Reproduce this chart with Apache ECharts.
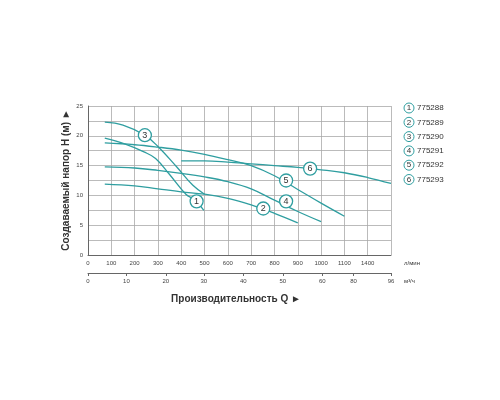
<!DOCTYPE html><html><head><meta charset="utf-8"><script src="https://cdn.jsdelivr.net/npm/echarts@6/dist/echarts.min.js"></script>
<style>html,body{margin:0;background:#fff}#c{width:500px;height:400px}</style></head><body><div id="c"></div><script>
var names=['775288','775289','775290','775291','775292','775293'];
var c1=[[72,19.6],[160,18.6],[240,17.3],[290,16.2],[350,13.5],[420,10.2],[460,9.2],[497,7.5]];
var c2=[[72,11.9],[200,11.6],[300,11.1],[400,10.6],[500,10.2],[600,9.5],[700,8.4],[800,7],[900,5.4]];
var c3=[[72,22.3],[150,21.8],[244,20.1],[300,18.2],[380,14.8],[450,11.7],[500,10.2]];
var c4=[[72,14.8],[200,14.6],[300,14.2],[400,13.7],[500,13.1],[600,12.3],[700,11.1],[800,9.2],[900,7.3],[1000,5.6]];
var c5=[[72,18.8],[200,18.5],[300,18.1],[400,17.6],[500,16.9],[600,16],[700,15],[800,13.3],[900,11],[1000,8.7],[1100,6.5]];
var c6=[[400,15.8],[500,15.8],[600,15.6],[700,15.3],[800,15],[900,14.7],[1000,14.3],[1100,13.8],[1200,13],[1300,12]];
var curves=[c1,c2,c3,c4,c5,c6];
var marks=[[466,9.0],[752,7.8],[244,20.1],[850,9.0],[850,12.5],[953,14.5]];
var lpmTicks=[0,100,200,300,400,500,600,700,800,900,1000,1100,1200];
var lpmLabels=['0','100','200','300','400','500','600','700','800','900','1000','1100','1400'];
var m3Pos=[0,165,334,497,666,836,1005,1139,1300];
var m3Labels=['0','10','20','30','40','50','60','80','96'];
var teal='#2f9ea0';
var series=curves.map(function(d,i){return{type:'line',data:d,smooth:0.4,symbol:'none',lineStyle:{color:teal,width:1.3},xAxisIndex:0,
markPoint:{symbol:'circle',symbolSize:13,itemStyle:{color:'#fff',borderColor:teal,borderWidth:1.3},label:{show:true,formatter:String(i+1),color:'#333',fontSize:9,fontFamily:'Arial'},data:[{coord:marks[i]}]}};});
series.push({type:'line',data:[],xAxisIndex:1});
var g=[];
names.forEach(function(n,i){var y=108+i*14.3;
g.push({type:'circle',shape:{cx:409,cy:y,r:5},style:{fill:'#fff',stroke:teal,lineWidth:1}});
g.push({type:'text',x:409,y:y,style:{text:String(i+1),fill:'#333',font:'8px Arial',align:'center',verticalAlign:'middle'}});
g.push({type:'text',x:417,y:y,style:{text:n,fill:'#333',font:'8px Arial',verticalAlign:'middle'}});});
g.push({type:'text',x:404,y:263,style:{text:'л/мин',fill:'#333',font:'6px Arial',verticalAlign:'middle'}});
g.push({type:'text',x:404,y:281,style:{text:'м³/ч',fill:'#333',font:'6px Arial',verticalAlign:'middle'}});
g.push({type:'text',x:236,y:299,style:{text:'Производительность Q ►',fill:'#333',font:'bold 10px Arial',align:'center',verticalAlign:'middle'}});
g.push({type:'text',x:66,y:180,rotation:Math.PI/2,style:{text:'Создаваемый напор H (м) ►',fill:'#333',font:'bold 10px Arial',align:'center',verticalAlign:'middle'}});
var chart=echarts.init(document.getElementById('c'));
chart.setOption({animation:false,grid:{left:88,right:109,top:106,bottom:145},graphic:g,
xAxis:[{type:'value',min:0,max:1300,interval:100,axisLine:{lineStyle:{color:'#666'}},axisTick:{show:false},
splitLine:{show:true,lineStyle:{color:'#aaa',width:0.8}},
axisLabel:{fontSize:6,color:'#444',margin:5,formatter:function(v){var k=lpmTicks.indexOf(v);return k<0?'':lpmLabels[k];}}},
{type:'value',min:0,max:1300,position:'bottom',offset:18,axisLine:{show:true,lineStyle:{color:'#666'}},splitLine:{show:false},
axisTick:{show:true,customValues:m3Pos,length:3,inside:false},
axisLabel:{fontSize:6,color:'#444',margin:5,customValues:m3Pos,formatter:function(v){var k=m3Pos.indexOf(v);return k<0?'':m3Labels[k];}}}],
yAxis:{type:'value',min:0,max:25,interval:2.5,axisLine:{show:true,lineStyle:{color:'#666'}},axisTick:{show:false},
splitLine:{lineStyle:{color:'#aaa',width:0.8}},axisLabel:{fontSize:6,color:'#444',margin:5,formatter:function(v){return v%5===0?String(v):'';}}},
series:series});
</script></body></html>
